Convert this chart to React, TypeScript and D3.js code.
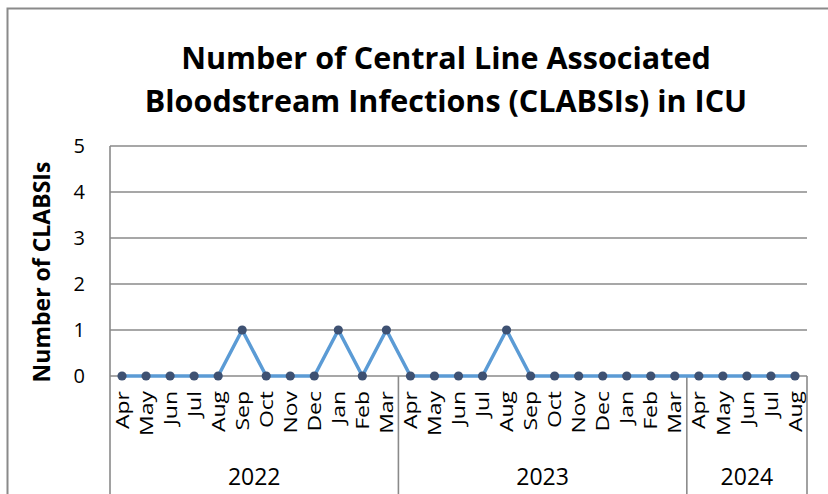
import React from "react";
import * as d3 from "d3";

// Chart data: monthly CLABSI counts grouped by fiscal year
const yearLabels = ["2022", "2023", "2024"];
const months2022 = ["Apr", "May", "Jun", "Jul", "Aug", "Sep", "Oct", "Nov", "Dec", "Jan", "Feb", "Mar"];
const months2023 = ["Apr", "May", "Jun", "Jul", "Aug", "Sep", "Oct", "Nov", "Dec", "Jan", "Feb", "Mar"];
const months2024 = ["Apr", "May", "Jun", "Jul", "Aug"];
const values2022 = [0, 0, 0, 0, 0, 1, 0, 0, 0, 1, 0, 1];
const values2023 = [0, 0, 0, 0, 1, 0, 0, 0, 0, 0, 0, 0];
const values2024 = [0, 0, 0, 0, 0];
const yTicks = [0, 1, 2, 3, 4, 5];

const titleLines = ["Number of Central Line Associated", "Bloodstream Infections (CLABSIs) in ICU"];
const yTitle = "Number of CLABSIs";

type Point = { key: string; month: string; value: number };

const groups = [
  { year: yearLabels[0], months: months2022, values: values2022 },
  { year: yearLabels[1], months: months2023, values: values2023 },
  { year: yearLabels[2], months: months2024, values: values2024 },
];

const points: Point[] = groups.flatMap((g) =>
  g.months.map((m, i) => ({ key: `${g.year}-${i}`, month: m, value: g.values[i] }))
);

export default function App() {
  const W = 828;
  const H = 494;
  const plot = { left: 110, right: 807, top: 146, bottom: 376 };
  const font = "'Open Sans', sans-serif";
  const gridColor = "#8a8a8a";

  const x = d3
    .scaleBand<string>()
    .domain(points.map((p) => p.key))
    .range([plot.left, plot.right])
    .padding(0);
  const y = d3.scaleLinear().domain([0, 5]).range([plot.bottom, plot.top]);
  const cx = (p: Point) => (x(p.key) as number) + x.bandwidth() / 2;

  const line = d3
    .line<Point>()
    .x((p) => cx(p))
    .y((p) => y(p.value));

  // boundaries between year groups
  let acc = 0;
  const bounds: number[] = [plot.left];
  const yearSpans = groups.map((g) => {
    const start = x(points[acc].key) as number;
    acc += g.months.length;
    const end = acc < points.length ? (x(points[acc].key) as number) : plot.right;
    bounds.push(end);
    return { year: g.year, mid: (start + end) / 2 };
  });

  return (
    <div style={{ position: "fixed", left: 0, top: 0 }}>
      <svg width={W} height={H} style={{ display: "block", background: "#fff" }}>
        {/* outer frame (top and left edges visible) */}
        <path d={`M7.5,${H} V8.5 H${W}`} fill="none" stroke={gridColor} strokeWidth={2} />

        {/* title */}
        <text textAnchor="middle" fontFamily={font} fontWeight="bold" fontSize={30.5} fill="#000">
          {titleLines.map((t, i) => (
            <tspan key={i} x={446} y={69 + i * 43}>
              {t}
            </tspan>
          ))}
        </text>

        {/* gridlines */}
        {yTicks.map((t) => (
          <line
            key={t}
            x1={plot.left}
            x2={plot.right}
            y1={y(t)}
            y2={y(t)}
            stroke={gridColor}
            strokeWidth={1.6}
          />
        ))}
        {/* y axis line */}
        <line x1={plot.left} x2={plot.left} y1={plot.top} y2={H} stroke={gridColor} strokeWidth={1.6} />
        {/* group separators */}
        {bounds.slice(1).map((b, i) => (
          <line key={i} x1={b} x2={b} y1={plot.bottom} y2={H} stroke={gridColor} strokeWidth={1.6} />
        ))}

        {/* y tick labels */}
        {yTicks.map((t) => (
          <text
            key={t}
            x={85}
            y={y(t)}
            dy="0.36em"
            textAnchor="end"
            fontFamily={font}
            fontSize={20}
            fill="#000"
          >
            {t}
          </text>
        ))}

        {/* y title */}
        <text
          transform={`translate(42,272) rotate(-90)`}
          textAnchor="middle"
          dy="0.36em"
          fontFamily={font}
          fontWeight="bold"
          fontSize={23}
          fill="#000"
        >
          {yTitle}
        </text>

        {/* month labels */}
        {points.map((p) => (
          <text
            key={p.key}
            transform={`translate(${cx(p)},${plot.bottom + 15}) rotate(-90) scale(1,0.8)`}
            textAnchor="end"
            dy="0.36em"
            fontFamily={font}
            fontSize={23}
            fill="#000"
          >
            {p.month}
          </text>
        ))}

        {/* year labels */}
        {yearSpans.map((s) => (
          <text
            key={s.year}
            x={s.mid}
            y={485}
            textAnchor="middle"
            fontFamily={font}
            fontSize={23}
            fill="#000"
          >
            {s.year}
          </text>
        ))}

        {/* series */}
        <path d={line(points) ?? ""} fill="none" stroke="#5b9bd5" strokeWidth={3.5} strokeLinejoin="round" />
        {points.map((p) => (
          <circle key={p.key} cx={cx(p)} cy={y(p.value)} r={4.6} fill="#3e5172" />
        ))}
      </svg>
    </div>
  );
}
